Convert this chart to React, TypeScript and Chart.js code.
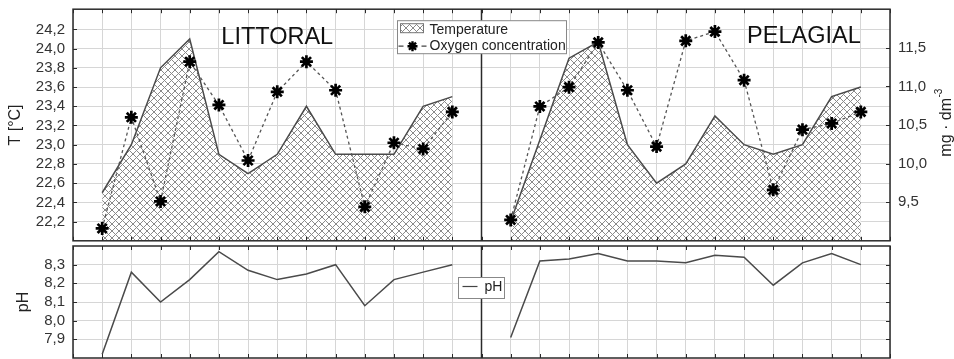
import React, { useEffect, useRef } from 'react';
import { Chart, registerables } from 'chart.js';

Chart.register(...registerables);

// ---- data ----
const littoralSamples = [1, 2, 3, 4, 5, 6, 7, 8, 9, 10, 11, 12, 13];
const pelagialSamples = [15, 16, 17, 18, 19, 20, 21, 22, 23, 24, 25, 26, 27];
const zoneDivider = 14;
const xMin = 0;
const xMax = 28;

const tempLittoral = [22.5, 23.0, 23.8, 24.1, 22.9, 22.7, 22.9, 23.4, 22.9, 22.9, 22.9, 23.4, 23.5];
const tempPelagial = [22.2, 23.05, 23.9, 24.07, 23.0, 22.6, 22.8, 23.3, 23.0, 22.9, 23.0, 23.5, 23.6];
const oxyLittoral = [9.16, 10.6, 9.51, 11.32, 10.76, 10.04, 10.93, 11.32, 10.95, 9.44, 10.27, 10.19, 10.67];
const oxyPelagial = [9.27, 10.74, 10.99, 11.57, 10.95, 10.22, 11.59, 11.71, 11.08, 9.66, 10.44, 10.52, 10.67];
const phLittoral = [7.82, 8.26, 8.10, 8.22, 8.37, 8.27, 8.22, 8.25, 8.30, 8.08, 8.22, 8.26, 8.30];
const phPelagial = [7.91, 8.32, 8.33, 8.36, 8.32, 8.32, 8.31, 8.35, 8.34, 8.19, 8.31, 8.36, 8.30];

const tempTicks = [22.2, 22.4, 22.6, 22.8, 23.0, 23.2, 23.4, 23.6, 23.8, 24.0, 24.2];
const oxyTicks = [9.5, 10.0, 10.5, 11.0, 11.5];
const phTicks = [7.9, 8.0, 8.1, 8.2, 8.3];
const xGrid = Array.from({ length: xMax - xMin + 1 }, (_, i) => xMin + i);

const zoneLabels = ['LITTORAL', 'PELAGIAL'];
const zoneLabelPos = [7, 25.05];

const FONT = '"Liberation Sans", Arial, sans-serif';
const GRID = '#d6d6d6';
const FRAME = '#2a2a2a';
const TICKTXT = '#333';

const fmt = (v: any) => Number(v).toFixed(1).replace('.', ',');
const pts = (xs: number[], ys: number[]) => ys.map((y, i) => ({ x: xs[i], y }));

function makeHatch(): any {
  const s = 7;
  const c = document.createElement('canvas');
  c.width = s;
  c.height = s;
  const g = c.getContext('2d')!;
  g.fillStyle = '#fff';
  g.fillRect(0, 0, s, s);
  g.strokeStyle = '#8a8a8a';
  g.lineWidth = 1;
  g.beginPath();
  g.moveTo(-1, -1);
  g.lineTo(s + 1, s + 1);
  g.moveTo(s + 1, -1);
  g.lineTo(-1, s + 1);
  g.stroke();
  return g.createPattern(c, 'repeat');
}

function drawStar(ctx: CanvasRenderingContext2D, x: number, y: number, r: number, w: number) {
  ctx.save();
  ctx.strokeStyle = '#000';
  ctx.lineWidth = w;
  ctx.beginPath();
  ctx.moveTo(x - r, y); ctx.lineTo(x + r, y);
  ctx.moveTo(x, y - r); ctx.lineTo(x, y + r);
  const d = r * Math.SQRT1_2;
  ctx.moveTo(x - d, y - d); ctx.lineTo(x + d, y + d);
  ctx.moveTo(x - d, y + d); ctx.lineTo(x + d, y - d);
  ctx.stroke();
  ctx.restore();
}

const framePlugin = {
  id: 'frame',
  afterDatasetsDraw(chart: any, _args: any, opts: any) {
    const { ctx, chartArea: ca, scales } = chart;
    const xs = scales.x;
    ctx.save();
    ctx.strokeStyle = FRAME;
    ctx.lineWidth = 1;
    ctx.beginPath();
    for (const v of xGrid) {
      const px = Math.round(xs.getPixelForValue(v)) + 0.5;
      ctx.moveTo(px, ca.top); ctx.lineTo(px, ca.top + 4);
      ctx.moveTo(px, ca.bottom); ctx.lineTo(px, ca.bottom - 4);
    }
    const side = (id: string, vals: number[], right: boolean) => {
      const sc = scales[id];
      for (const v of vals) {
        const py = Math.round(sc.getPixelForValue(v)) + 0.5;
        const x0 = right ? ca.right : ca.left;
        ctx.moveTo(x0, py); ctx.lineTo(right ? x0 - 4 : x0 + 4, py);
      }
    };
    side(opts.leftId, opts.leftTicks, false);
    side(opts.rightId, opts.rightTicks, true);
    ctx.stroke();
    ctx.lineWidth = 1.5;
    ctx.strokeRect(ca.left, ca.top, ca.right - ca.left, ca.bottom - ca.top);
    const dx = xs.getPixelForValue(zoneDivider);
    ctx.beginPath();
    ctx.moveTo(dx, ca.top); ctx.lineTo(dx, ca.bottom);
    ctx.stroke();
    ctx.restore();
  },
};

export default function App() {
  const topRef = useRef<HTMLCanvasElement>(null);
  const botRef = useRef<HTMLCanvasElement>(null);

  useEffect(() => {
    const hatch = makeHatch();
    Chart.defaults.font.family = FONT;

    const topAnnot = {
      id: 'topAnnot',
      afterDraw(chart: any) {
        const { ctx, chartArea: ca, scales } = chart;
        ctx.save();
        // zone titles
        ctx.font = '23.5px ' + FONT;
        ctx.fillStyle = '#111';
        ctx.textAlign = 'center';
        ctx.textBaseline = 'alphabetic';
        ctx.fillText(zoneLabels[0], scales.x.getPixelForValue(zoneLabelPos[0]), ca.top + 35);
        ctx.fillText(zoneLabels[1], scales.x.getPixelForValue(zoneLabelPos[1]), ca.top + 34);
        // legend
        const lx = ca.left + 324.5;
        const ly = ca.top + 11.5;
        ctx.fillStyle = '#fff';
        ctx.fillRect(lx, ly, 169, 33);
        ctx.strokeStyle = '#888';
        ctx.lineWidth = 1;
        ctx.strokeRect(lx, ly, 169, 33);
        ctx.fillStyle = hatch;
        ctx.fillRect(lx + 3, ly + 3, 23, 9);
        ctx.strokeStyle = '#777';
        ctx.strokeRect(lx + 3, ly + 3, 23, 9);
        ctx.fillStyle = '#222';
        ctx.font = '14px ' + FONT;
        ctx.textAlign = 'left';
        ctx.textBaseline = 'middle';
        ctx.fillText('Temperature', lx + 32, ly + 9);
        ctx.fillText('Oxygen concentration', lx + 32, ly + 25);
        ctx.strokeStyle = '#444';
        ctx.lineWidth = 1.3;
        ctx.beginPath();
        ctx.moveTo(lx + 1, ly + 25.5); ctx.lineTo(lx + 6, ly + 25.5);
        ctx.moveTo(lx + 24, ly + 25.5); ctx.lineTo(lx + 29, ly + 25.5);
        ctx.stroke();
        drawStar(ctx, lx + 15, ly + 25.5, 5, 2.4);
        // right axis title, rotated bottom-to-top
        ctx.translate(chart.width - 3.5, ca.top + 147.5);
        ctx.rotate(-Math.PI / 2);
        ctx.textAlign = 'left';
        ctx.textBaseline = 'alphabetic';
        ctx.fillStyle = '#222';
        ctx.font = '16px ' + FONT;
        const main = 'mg \u00B7 dm';
        ctx.fillText(main, 0, 0);
        const w = ctx.measureText(main).width;
        ctx.font = '10px ' + FONT;
        ctx.fillText('-3', w + 0.5, -9);
        ctx.restore();
      },
    };

    const botAnnot = {
      id: 'botAnnot',
      afterDraw(chart: any) {
        const { ctx, chartArea: ca } = chart;
        ctx.save();
        const lx = ca.left + 385.5;
        const ly = ca.top + 31.5;
        ctx.fillStyle = '#fff';
        ctx.fillRect(lx, ly, 46, 21);
        ctx.strokeStyle = '#888';
        ctx.lineWidth = 1;
        ctx.strokeRect(lx, ly, 46, 21);
        ctx.strokeStyle = '#444';
        ctx.lineWidth = 1.2;
        ctx.beginPath();
        ctx.moveTo(lx + 4, ly + 9); ctx.lineTo(lx + 19, ly + 9);
        ctx.stroke();
        ctx.fillStyle = '#222';
        ctx.font = '14px ' + FONT;
        ctx.textAlign = 'left';
        ctx.textBaseline = 'middle';
        ctx.fillText('pH', lx + 26, ly + 10);
        ctx.restore();
      },
    };

    const tickFont = { size: 15, family: FONT };
    const setTicks = (vals: number[]) => (s: any) => {
      s.ticks = vals.map((v) => ({ value: v }));
    };
    const xScale = {
      type: 'linear',
      min: xMin,
      max: xMax,
      afterBuildTicks: setTicks(xGrid),
      ticks: { display: false },
      grid: { color: GRID, drawTicks: false, lineWidth: 1 },
      border: { display: false },
      afterFit: (s: any) => { s.height = 0; },
    };

    const tempStyle = {
      yAxisID: 'y',
      borderColor: '#4a4a4a',
      borderWidth: 1.5,
      backgroundColor: hatch,
      fill: 'start',
      pointRadius: 0,
      tension: 0,
      order: 3,
    };
    const oxyStyle = {
      yAxisID: 'y1',
      borderColor: '#555',
      borderDash: [3, 3],
      borderWidth: 1.3,
      fill: false,
      pointStyle: 'star',
      pointRadius: 6.5,
      pointBorderWidth: 2.7,
      pointBorderColor: '#000',
      pointBackgroundColor: '#000',
      tension: 0,
      order: 1,
    };

    const c1 = new Chart(topRef.current!, {
      type: 'line',
      data: {
        datasets: [
          { label: 'Temperature', data: pts(littoralSamples, tempLittoral), ...tempStyle },
          { label: 'Temperature P', data: pts(pelagialSamples, tempPelagial), ...tempStyle },
          { label: 'Oxygen concentration', data: pts(littoralSamples, oxyLittoral), ...oxyStyle },
          { label: 'Oxygen P', data: pts(pelagialSamples, oxyPelagial), ...oxyStyle },
        ] as any,
      },
      options: {
        animation: false,
        responsive: false,
        maintainAspectRatio: false,
        layout: { padding: { top: 4, bottom: 4, left: 0, right: 0 } },
        plugins: {
          legend: { display: false },
          tooltip: { enabled: false },
          frame: { leftId: 'y', leftTicks: tempTicks, rightId: 'y1', rightTicks: oxyTicks },
        } as any,
        scales: {
          x: xScale,
          y: {
            position: 'left',
            min: 22.0,
            max: 24.41,
            afterBuildTicks: setTicks(tempTicks),
            ticks: { font: tickFont, color: TICKTXT, padding: 8, callback: fmt },
            grid: { color: GRID, drawTicks: false },
            border: { display: false },
            title: { display: true, text: 'T [°C]', font: { size: 16, family: FONT }, color: '#222', padding: { top: 6, bottom: 0 } },
            afterFit: (s: any) => { s.width = 73; s.paddingTop = 0; s.paddingBottom = 0; },
          },
          y1: {
            position: 'right',
            min: 9.0,
            max: 12.0,
            afterBuildTicks: setTicks(oxyTicks),
            ticks: { font: tickFont, color: TICKTXT, padding: 8, callback: fmt },
            grid: { drawOnChartArea: false, drawTicks: false },
            border: { display: false },
            afterFit: (s: any) => { s.width = 64; s.paddingTop = 0; s.paddingBottom = 0; },
          },
        } as any,
      },
      plugins: [framePlugin, topAnnot],
    });

    const phStyle = {
      borderColor: '#4a4a4a',
      borderWidth: 1.5,
      pointRadius: 0,
      fill: false,
      tension: 0,
    };

    const c2 = new Chart(botRef.current!, {
      type: 'line',
      data: {
        datasets: [
          { label: 'pH', data: pts(littoralSamples, phLittoral), ...phStyle },
          { label: 'pH P', data: pts(pelagialSamples, phPelagial), ...phStyle },
        ] as any,
      },
      options: {
        animation: false,
        responsive: false,
        maintainAspectRatio: false,
        layout: { padding: { top: 4, bottom: 1, left: 0, right: 64 } },
        plugins: {
          legend: { display: false },
          tooltip: { enabled: false },
          frame: { leftId: 'y', leftTicks: phTicks, rightId: 'y', rightTicks: phTicks },
        } as any,
        scales: {
          x: xScale,
          y: {
            position: 'left',
            min: 7.8,
            max: 8.4,
            afterBuildTicks: setTicks(phTicks),
            ticks: { font: tickFont, color: TICKTXT, padding: 8, callback: fmt },
            grid: { color: GRID, drawTicks: false },
            border: { display: false },
            title: { display: true, text: 'pH', font: { size: 16, family: FONT }, color: '#222', padding: { top: 14, bottom: 0 } },
            afterFit: (s: any) => { s.width = 73; s.paddingTop = 0; s.paddingBottom = 0; },
          },
        } as any,
      },
      plugins: [framePlugin, botAnnot],
    });

    return () => {
      c1.destroy();
      c2.destroy();
    };
  }, []);

  return (
    <div style={{ position: 'fixed', left: 0, top: 0, width: 954, height: 359, background: '#fff', overflow: 'hidden' }}>
      <canvas ref={topRef} width={954} height={250} style={{ position: 'absolute', left: 0, top: 0, width: 954, height: 250 }} />
      <canvas ref={botRef} width={954} height={117} style={{ position: 'absolute', left: 0, top: 242, width: 954, height: 117 }} />
    </div>
  );
}
